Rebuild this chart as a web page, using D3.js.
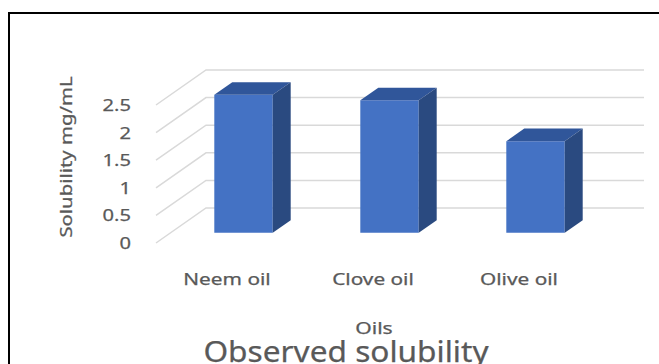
<!DOCTYPE html>
<html>
<head>
<meta charset="utf-8">
<script src="https://cdn.jsdelivr.net/npm/d3@7"></script>
<style>
  html, body { margin: 0; padding: 0; background: #fff; }
  svg { display: block; }
  text { font-family: "Noto Sans", "Open Sans", sans-serif; fill: #595959; stroke: #595959; stroke-width: 0.25px; }
</style>
</head>
<body>
<script>
// Observed solubility of three oils (mg/mL)
const categories = ["Neem oil", "Clove oil", "Olive oil"];
const solubility = [2.5, 2.4, 1.66];
const yTicks = [0, 0.5, 1, 1.5, 2, 2.5];
const yTickLabels = ["0", "0.5", "1", "1.5", "2", "2.5"];

const W = 659, H = 364;
const svg = d3.select("body").append("svg").attr("width", W).attr("height", H);

// Outer chart frame
svg.append("rect")
  .attr("x", 9).attr("y", 13).attr("width", 700).attr("height", 400)
  .attr("fill", "none").attr("stroke", "#000").attr("stroke-width", 2);

// Oblique 3D projection: front plane scales plus a depth vector
const DX = 50, DY = 35;               // full floor depth offset
const x = d3.scaleBand().domain(categories).range([156, 594]);
const y = d3.scaleLinear().domain([0, 2.5]).range([243, 105]);
const P = (px, v, t) => [px + t * DX, y(v) - t * DY];

// Stretch text horizontally along its own direction
function stretch(sel, f) {
  sel.each(function () {
    const len = this.getComputedTextLength();
    d3.select(this).attr("textLength", len * f).attr("lengthAdjust", "spacingAndGlyphs");
  });
}

// Gridlines: side wall diagonals and back wall horizontals
const grid = svg.append("g").attr("stroke", "#d9d9d9").attr("stroke-width", 1.5).attr("fill", "none");
const x0 = x.range()[0], x1 = x.range()[1];
yTicks.forEach(v => {
  const a = P(x0, v, 0), b = P(x0, v, 1), c = P(x1, v, 1);
  grid.append("path").attr("d", d3.line()([a, b, c]));
});

// Value axis tick labels
const tl = svg.append("g").selectAll("text").data(yTicks).join("text")
  .attr("x", 131).attr("y", v => y(v))
  .attr("dy", "0.36em")
  .attr("text-anchor", "end")
  .attr("font-size", 16.5)
  .text((v, i) => yTickLabels[i]);
stretch(tl, 1.22);

// 3D columns
const t0 = 0.29, t1 = 0.65;
const barW = x.bandwidth() / 2.5;
const bars = svg.append("g");
categories.forEach((c, i) => {
  const v = solubility[i];
  const cx = x(c) + x.bandwidth() / 2;
  const L = cx - barW / 2, R = cx + barW / 2;
  const ftl = P(L, v, t0), ftr = P(R, v, t0), fbr = P(R, 0, t0), fbl = P(L, 0, t0);
  const btl = P(L, v, t1), btr = P(R, v, t1), bbr = P(R, 0, t1);
  const g = bars.append("g");
  g.append("path").attr("d", d3.line()([ftl, ftr, fbr, fbl]) + "Z").attr("fill", "#4472C4");
  g.append("path").attr("d", d3.line()([ftl, ftr, btr, btl]) + "Z").attr("fill", "#30569A");
  g.append("path").attr("d", d3.line()([ftr, btr, bbr, fbr]) + "Z").attr("fill", "#2A4A80");
});

// Category labels
const cl = svg.append("g").selectAll("text").data(categories).join("text")
  .attr("x", c => x(c) + x.bandwidth() / 2 - 2)
  .attr("y", 285)
  .attr("text-anchor", "middle")
  .attr("font-size", 16)
  .text(c => c);
stretch(cl, 1.3);

// Axis titles
const xt = svg.append("text")
  .attr("x", 374).attr("y", 334)
  .attr("text-anchor", "middle").attr("font-size", 16)
  .text("Oils");
stretch(xt, 1.32);

const yt = svg.append("text")
  .attr("transform", "translate(72,157) rotate(-90)")
  .attr("text-anchor", "middle").attr("font-size", 16)
  .text("Solubility mg/mL");
stretch(yt, 1.27);

// Chart title
const tt = svg.append("text")
  .attr("x", 346).attr("y", 361.5)
  .attr("text-anchor", "middle").attr("font-size", 29)
  .text("Observed solubility");
stretch(tt, 1.09);
</script>
</body>
</html>
